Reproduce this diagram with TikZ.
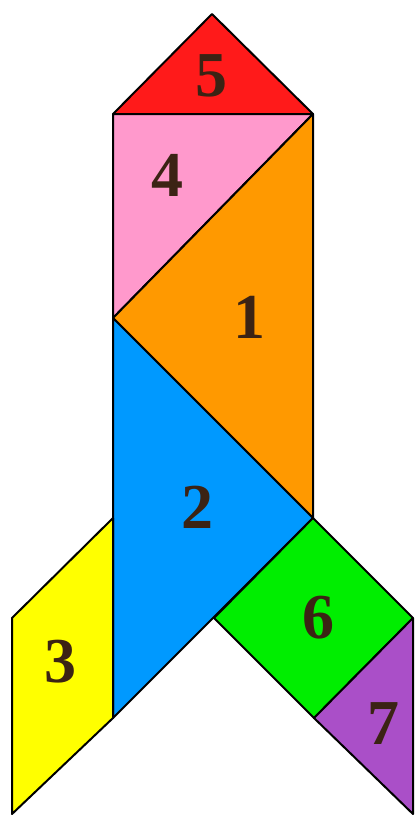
\documentclass[tikz,border=0pt]{standalone}
\usepackage{fontspec}
\setmainfont{Liberation Serif}
\definecolor{cred}{HTML}{FF1A1A}
\definecolor{cpink}{HTML}{FF99CC}
\definecolor{corange}{HTML}{FF9900}
\definecolor{cblue}{HTML}{0099FF}
\definecolor{cyellow}{HTML}{FFFF00}
\definecolor{cgreen}{HTML}{00EE00}
\definecolor{cpurple}{HTML}{AA4FC8}
\definecolor{ctext}{HTML}{3B2314}
\tikzset{
  piece/.style={draw=black, line width=1pt, line join=round},
  num/.style={text=ctext, font=\fontsize{32}{36}\selectfont\bfseries, inner sep=0pt}
}
\begin{document}
\begin{tikzpicture}[x=0.5pt, y=-0.5pt]
\useasboundingbox (0,0) rectangle (417,816);
\coordinate (T) at (212,14);
\coordinate (A) at (113,114);
\coordinate (B) at (313,114);
\coordinate (C) at (113,318);
\coordinate (D) at (313,518);
\coordinate (E) at (113,718);
\coordinate (F) at (214,618);
\coordinate (G) at (413,618);
\coordinate (H) at (314,718);
\coordinate (I) at (413,814);
\coordinate (P1) at (113,518);
\coordinate (P2) at (12,618);
\coordinate (P3) at (12,814);
\fill[cred] (T) -- (A) -- (B) -- cycle;
\draw[piece] (T) -- (A) -- (B) -- cycle;
\filldraw[piece, fill=cpink] (A) -- (B) -- (C) -- cycle;
\filldraw[piece, fill=corange] (B) -- (C) -- (D) -- cycle;
\filldraw[piece, fill=cblue] (C) -- (D) -- (E) -- cycle;
\filldraw[piece, fill=cyellow] (P1) -- (E) -- (P3) -- (P2) -- cycle;
\filldraw[piece, fill=cgreen] (D) -- (G) -- (H) -- (F) -- cycle;
\filldraw[piece, fill=cpurple] (G) -- (I) -- (H) -- cycle;
\node[num] (n5) at (211,76) {5};
\node[num] (n4) at (167,175) {4};
\node[num] (n1) at (250,317) {1};
\node[num] (n2) at (197,507) {2};
\node[num] (n3) at (61,662) {3};
\node[num] (n6) at (318,618) {6};
\node[num] (n7) at (383,724) {7};
\end{tikzpicture}
\end{document}
